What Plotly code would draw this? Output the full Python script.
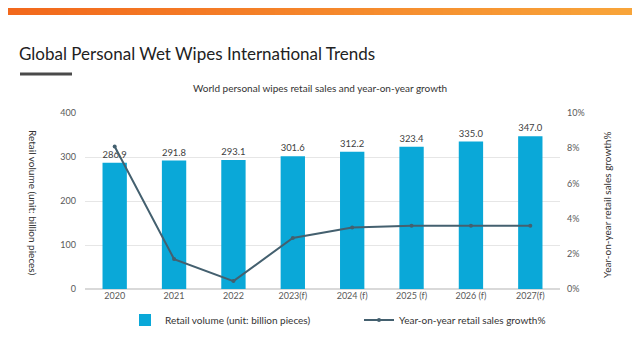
import plotly.graph_objects as go

categories = ["2020", "2021", "2022", "2023(f)", "2024 (f)", "2025 (f)", "2026 (f)", "2027(f)"]
retail_volume = [286.9, 291.8, 293.1, 301.6, 312.2, 323.4, 335.0, 347.0]
yoy_growth = [8.1, 1.7, 0.45, 2.9, 3.5, 3.6, 3.6, 3.6]
left_ticks = [0, 100, 200, 300, 400]
right_ticks = [0, 2, 4, 6, 8, 10]

BAR = "#0AA8D8"
LINE = "#44606F"
TXT = "#595959"
FONT = "Lato"

# page body has an 8px default margin; compensate so the picture lands at window pixels
OFF = 8
FW, FH = 640 - OFF, 360 - OFF
W, H = 475, 176
L, T = 85 - OFF, 113 - OFF

fig = go.Figure()
fig.add_trace(go.Bar(
    x=categories, y=retail_volume, name="Retail volume (unit: billion pieces)",
    marker=dict(color=BAR, line=dict(width=0)), width=0.41,
    text=[f"{v:.1f}" for v in retail_volume], textposition="outside",
    textfont=dict(size=10, color="#404040", family=FONT), cliponaxis=False,
))
fig.add_trace(go.Scatter(
    x=categories, y=yoy_growth, name="Year-on-year retail sales growth%",
    yaxis="y2", mode="lines+markers",
    line=dict(color=LINE, width=2), marker=dict(size=4, color=LINE),
))


def px(x):
    return (x - OFF - L) / W


def py(y):
    return 1 + (T - (y - OFF)) / H


# top gradient band
n = 64
c0 = (242, 104, 28)
c1 = (248, 165, 58)
for i in range(n):
    t = i / (n - 1)
    col = "rgb(%d,%d,%d)" % tuple(round(a + (b - a) * t) for a, b in zip(c0, c1))
    fig.add_shape(type="rect", xref="paper", yref="paper",
                  x0=px(OFF + i * FW / n), x1=px(OFF + (i + 1.1) * FW / n),
                  y0=py(15), y1=py(OFF - 1),
                  fillcolor=col, line=dict(width=0), layer="below")

fig.add_shape(type="line", xref="paper", yref="paper",
              x0=px(20), x1=px(72), y0=py(74), y1=py(74),
              line=dict(color="#4a4a4a", width=3))

fig.add_annotation(text="Global Personal Wet Wipes International Trends",
                   xref="paper", yref="paper", x=px(17), y=py(53),
                   xanchor="left", yanchor="middle", showarrow=False,
                   font=dict(size=17, color="#222222", family=FONT))
fig.add_annotation(text="World personal wipes retail sales and year-on-year growth",
                   xref="paper", yref="paper", x=px(320), y=py(88),
                   xanchor="center", yanchor="middle", showarrow=False,
                   font=dict(size=10, color="#333333", family=FONT))
fig.add_annotation(text="Retail volume (unit: billion pieces)", textangle=90,
                   xref="paper", yref="paper", x=px(33), y=py(202),
                   xanchor="center", yanchor="middle", showarrow=False,
                   font=dict(size=10, color="#333333", family=FONT))
fig.add_annotation(text="Year-on-year retail sales growth%", textangle=-90,
                   xref="paper", yref="paper", x=px(607), y=py(205),
                   xanchor="center", yanchor="middle", showarrow=False,
                   font=dict(size=10, color="#333333", family=FONT))

fig.update_layout(
    width=FW, height=FH,
    margin=dict(l=L, r=FW - L - W, t=T, b=FH - T - H, autoexpand=False),
    paper_bgcolor="white", plot_bgcolor="white",
    font=dict(family=FONT, color=TXT, size=10),
    showlegend=True,
    legend=dict(orientation="h", x=px(125), xanchor="left",
                y=py(320), yanchor="middle", entrywidth=189, entrywidthmode="pixels",
                font=dict(size=10, color="#333333", family=FONT),
                bgcolor="rgba(0,0,0,0)"),
    xaxis=dict(showgrid=False, showline=False, tickfont=dict(size=9, color=TXT),
               ticks=""),
    yaxis=dict(range=[0, 400], tickvals=left_ticks, showgrid=True, gridcolor="#E6E6E6",
               gridwidth=1, zeroline=True, zerolinecolor="#D9D9D9",
               tickfont=dict(size=9, color=TXT), ticklabelstandoff=8),
    yaxis2=dict(range=[0, 10], tickvals=right_ticks,
                ticktext=[f"{v}%" for v in right_ticks], overlaying="y",
                side="right", showgrid=False, zeroline=False,
                tickfont=dict(size=9, color=TXT), ticklabelstandoff=6),
)

fig.write_html("out.html")
